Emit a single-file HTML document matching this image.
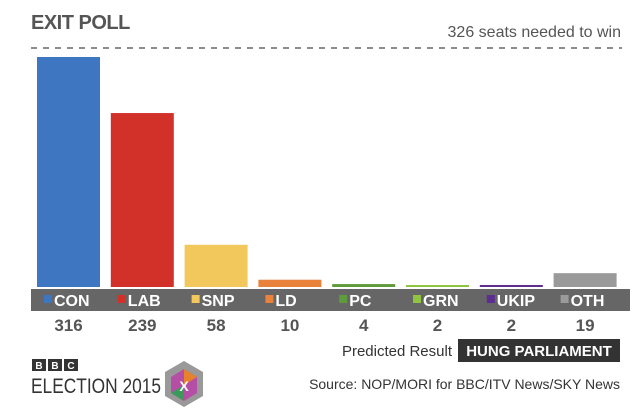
<!DOCTYPE html>
<html><head><meta charset="utf-8"><style>
body{margin:0;width:643px;height:418px;background:#fff;font-family:"Liberation Sans",sans-serif;overflow:hidden;position:relative}
.a{position:absolute}
</style></head><body>
<div class="a" style="left:31px;top:12px;font-size:20px;font-weight:bold;color:#555;letter-spacing:-0.5px">EXIT POLL</div>
<div class="a" style="right:22px;top:24px;font-size:16px;color:#555">326 seats needed to win</div>
<svg class="a" style="left:0;top:0" width="643" height="418">
<line x1="31" y1="48" x2="622" y2="48" stroke="#666" stroke-width="1.5" stroke-dasharray="6,6"/>
<rect x="31" y="289" width="599" height="22" fill="#666"/>
<g id="g"></g>
<rect x="458" y="339" width="162" height="23" fill="#333"/>
<text x="539" y="356" text-anchor="middle" fill="#fff" font-size="15" font-weight="bold">HUNG PARLIAMENT</text>
<text x="452" y="356" text-anchor="end" fill="#333" font-size="15">Predicted Result</text>
<text x="620" y="389" text-anchor="end" fill="#333" font-size="14">Source: NOP/MORI for BBC/ITV News/SKY News</text>
<g>
<rect x="32" y="359" width="14" height="12" fill="#333"/><rect x="48" y="359" width="14" height="12" fill="#333"/><rect x="64" y="359" width="14" height="12" fill="#333"/>
<text x="39" y="369" text-anchor="middle" fill="#fff" font-size="10" font-weight="bold">B</text>
<text x="55" y="369" text-anchor="middle" fill="#fff" font-size="10" font-weight="bold">B</text>
<text x="71" y="369" text-anchor="middle" fill="#fff" font-size="10" font-weight="bold">C</text>
<text x="31" y="393" fill="#333" font-size="21" textLength="130" lengthAdjust="spacingAndGlyphs">ELECTION 2015</text>
<polygon points="184,361 203,372 203,396 184,407 165,396 165,372" fill="#999"/>
<polygon points="184,369 197,377 197,393 184,401 171,393 171,377" fill="#b44fa5"/>
<polygon points="184,369 197,377 184,385" fill="#e8812e"/><polygon points="171,393 184,385 184,401" fill="#3a9a5a"/>
<text x="184" y="391" text-anchor="middle" fill="#fff" font-size="14" font-weight="bold">X</text>
</g>
</svg>
<script>
const parties=["CON","LAB","SNP","LD","PC","GRN","UKIP","OTH"];
const seats=[316,239,58,10,4,2,2,19];
const colors=["#3e76c2","#d2312a","#f2c75c","#e9823a","#5f9a3c","#8fc43e","#5c2e91","#9a9a9a"];
const g=document.getElementById('g');const NS="http://www.w3.org/2000/svg";
const base=287,scale=230/316,x0=37,pitch=73.8,bw=63;
const y=v=>base-v*scale;
parties.forEach((p,i)=>{
 const x=x0+i*pitch;
 const h=Math.max(2,base-y(seats[i]));
 const r=document.createElementNS(NS,'rect');
 r.setAttribute('x',x);r.setAttribute('y',base-h);r.setAttribute('width',bw);r.setAttribute('height',h);r.setAttribute('fill',colors[i]);
 
 
 g.appendChild(r);
 const sq=document.createElementNS(NS,'rect');
 sq.setAttribute('x',x+7);sq.setAttribute('y',295);sq.setAttribute('width',8);sq.setAttribute('height',8);sq.setAttribute('fill',colors[i]);
 
 
 g.appendChild(sq);
 const t=document.createElementNS(NS,'text');
 t.setAttribute('x',x+17);t.setAttribute('y',306);t.setAttribute('fill','#fff');t.setAttribute('font-size','16');t.setAttribute('font-weight','bold');t.textContent=p;
 
 
 g.appendChild(t);
 const v=document.createElementNS(NS,'text');
 v.setAttribute('x',x+bw/2);v.setAttribute('y',331);v.setAttribute('text-anchor','middle');v.setAttribute('fill','#555');v.setAttribute('font-size','17');v.setAttribute('font-weight','bold');v.textContent=seats[i];
 
 
 g.appendChild(v);
});
</script>
</body></html>
